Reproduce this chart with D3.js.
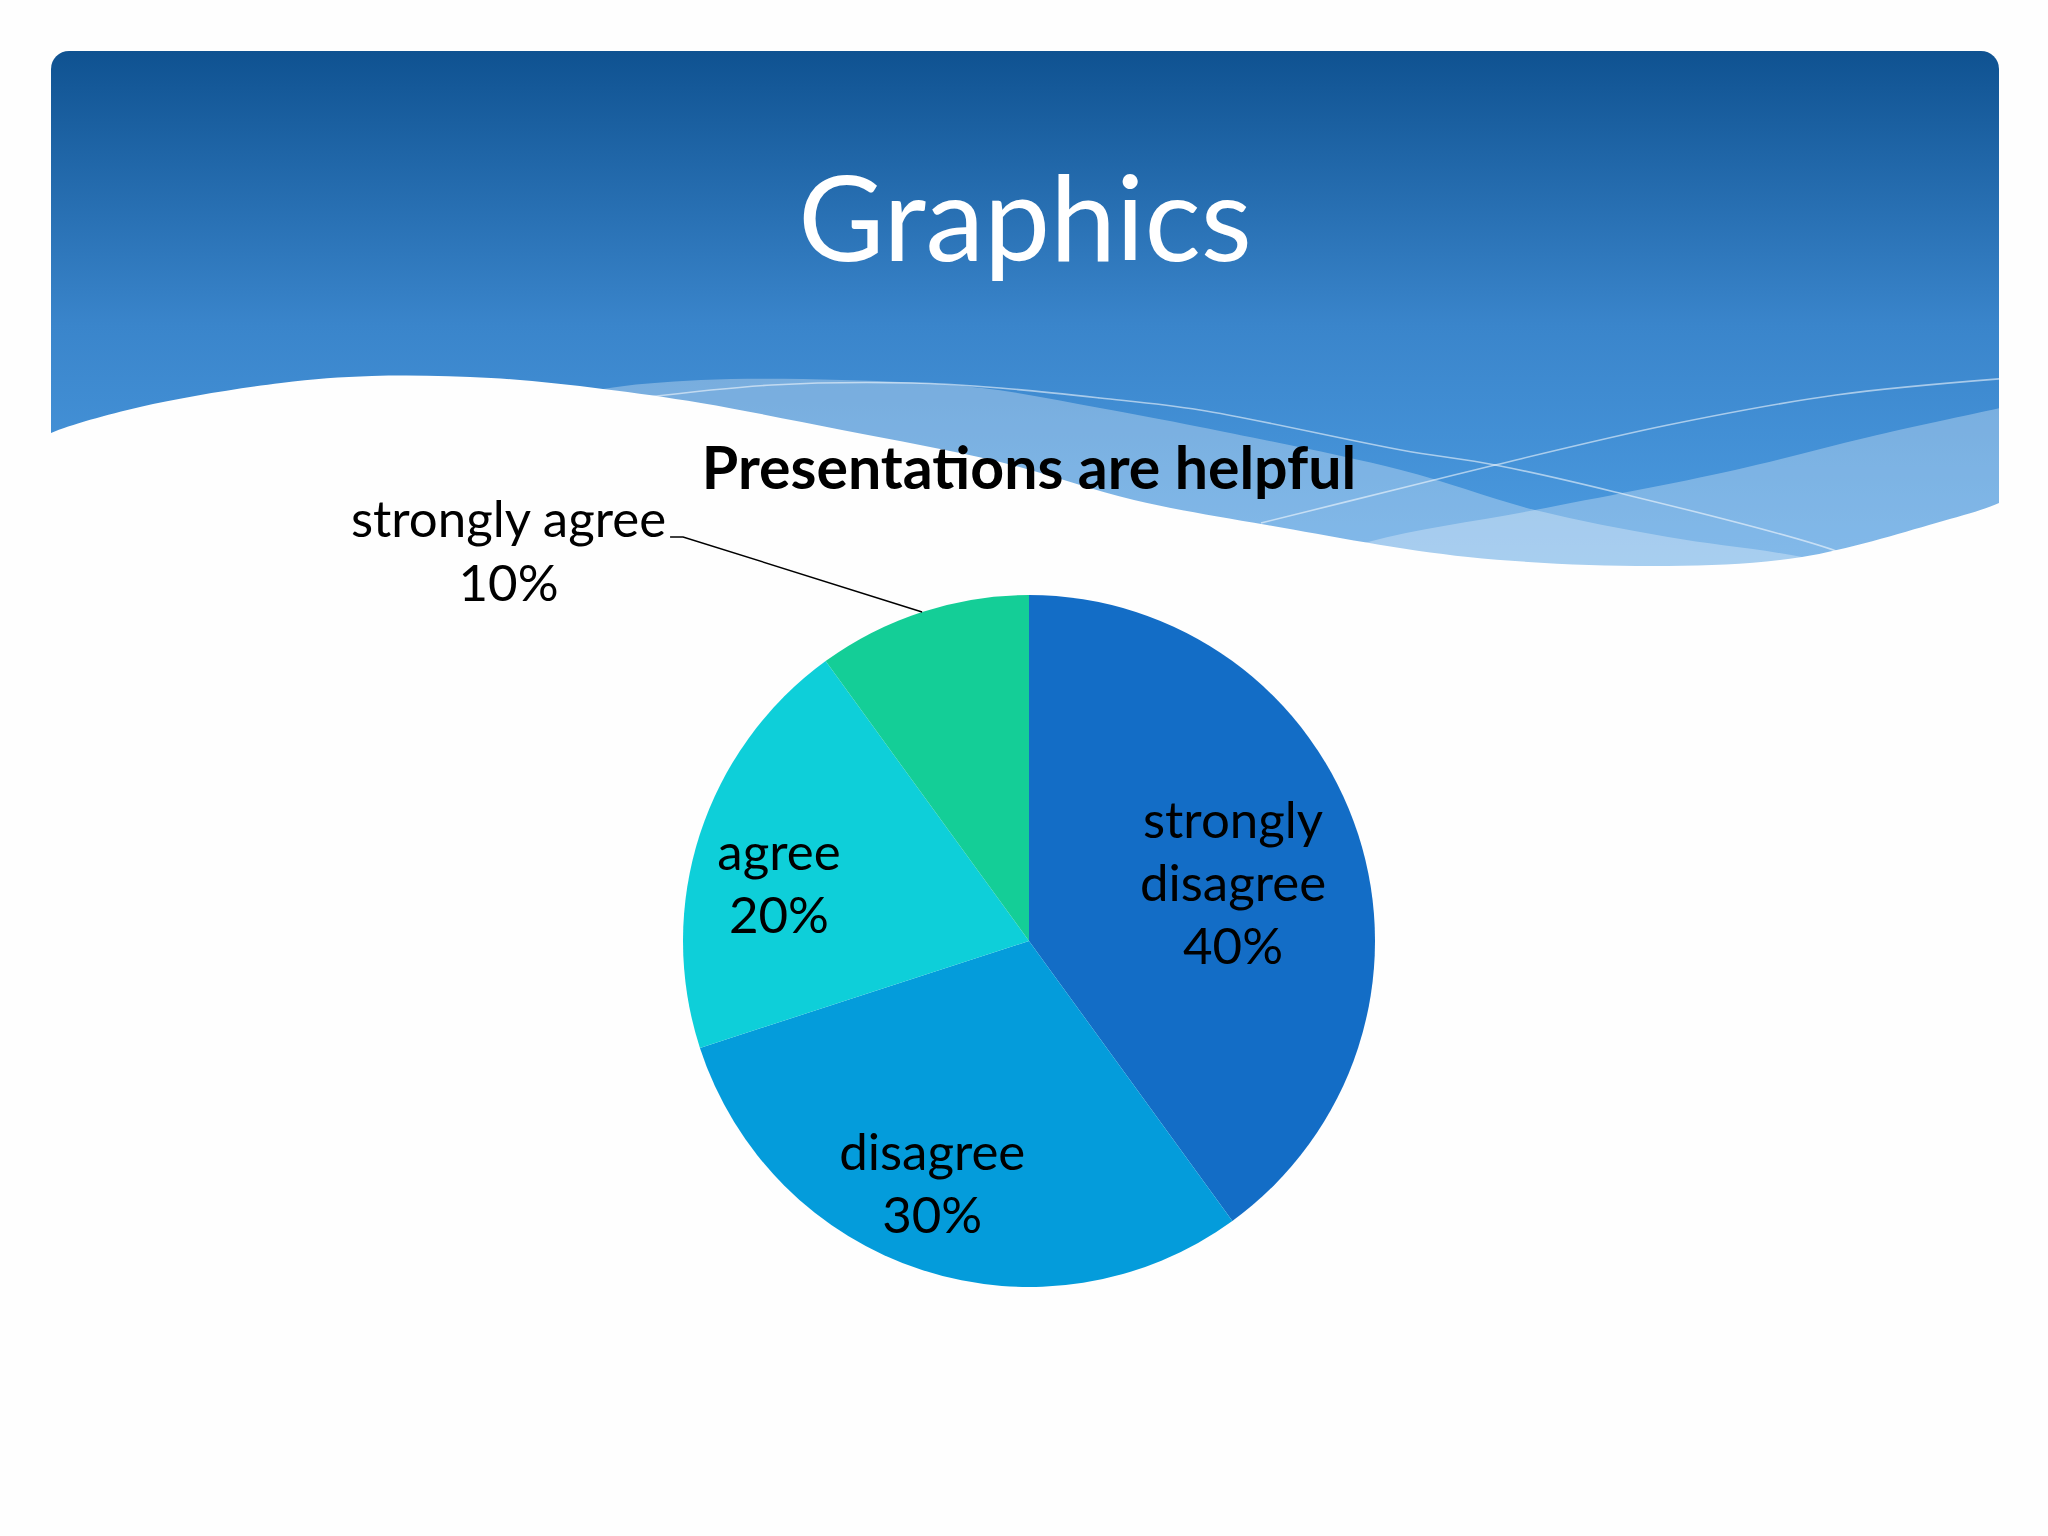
<!DOCTYPE html>
<html>
<head>
<meta charset="utf-8">
<script src="https://cdn.jsdelivr.net/npm/d3@7"></script>
<style>
  body { margin: 0; background: #fff; }
  svg { display: block; }
</style>
</head>
<body>
<div id="chart"></div>
<script>
// slide data
const slideTitle = 'Graphics';
const chartTitle = 'Presentations are helpful';
const categories = ['strongly disagree', 'disagree', 'agree', 'strongly agree'];
const values = [40, 30, 20, 10];
const labelWords = [['strongly', 'disagree'], ['disagree'], ['agree'], ['strongly agree']];
const palette = ['#136dc6', '#049cdb', '#0ecfd9', '#14ce97'];

const width = 2048;
const height = 1536;
const font = 'Lato, "Open Sans", sans-serif';

const data = categories.map((c, i) => ({ cat: c, value: values[i], words: labelWords[i] }));
const total = d3.sum(values);

const svg = d3
  .select('#chart')
  .append('svg')
  .attr('width', width)
  .attr('height', height)
  .attr('viewBox', [0, 0, width, height]);

svg.append('rect').attr('width', width).attr('height', height).attr('fill', '#fefefe');

// header background (rounded box, gradient, waves)
const defs = svg.append('defs');
const grad = defs
  .append('linearGradient')
  .attr('id', 'hdr')
  .attr('gradientUnits', 'userSpaceOnUse')
  .attr('x1', 0)
  .attr('y1', 51)
  .attr('x2', 0)
  .attr('y2', 600);
grad.append('stop').attr('offset', 0).attr('stop-color', '#0f5291');
grad.append('stop').attr('offset', 0.5).attr('stop-color', '#3a85cb');
grad.append('stop').attr('offset', 1).attr('stop-color', '#4f9fe4');

defs
  .append('clipPath')
  .attr('id', 'hdrClip')
  .append('rect')
  .attr('x', 51)
  .attr('y', 51)
  .attr('width', 1948)
  .attr('height', 700)
  .attr('rx', 18);

const header = svg.append('g').attr('clip-path', 'url(#hdrClip)');
header.append('rect').attr('x', 51).attr('y', 51).attr('width', 1948).attr('height', 580).attr('fill', 'url(#hdr)');

const curve = d3.line().curve(d3.curveCatmullRom.alpha(0.5));
const toBottom = (pts, yb) => curve(pts) + `L${pts[pts.length - 1][0]},${yb}L${pts[0][0]},${yb}Z`;

const bandA = [[560, 400], [603, 389], [701, 380], [842, 380], [982, 388], [1100, 408], [1200, 427],
  [1401, 470], [1535, 510], [1668, 537], [1802, 557], [2010, 605]];
const bandB = [[1230, 590], [1368, 542], [1535, 510], [1735, 470], [1869, 437], [2010, 406]];
const thin1 = [[640, 398], [772, 385], [912, 383], [1000, 388], [1100, 398], [1200, 410], [1401, 450],
  [1495, 465], [1615, 492], [1836, 551], [1900, 580]];
const thin2 = [[1261, 523], [1414, 485], [1495, 465], [1668, 425], [1836, 395], [2010, 378]];
const whiteEdge = [[30, 445], [51, 433], [140, 407], [281, 383], [372, 376], [491, 378], [603, 389],
  [701, 403], [842, 430], [1000, 462], [1134, 500], [1267, 525], [1468, 557], [1668, 566], [1802, 557],
  [1936, 523], [1999, 503], [2020, 490]];

header.append('path').attr('d', toBottom(bandA, 640)).attr('fill', '#fff').attr('fill-opacity', 0.3);
header.append('path').attr('d', toBottom(bandB, 640)).attr('fill', '#fff').attr('fill-opacity', 0.3);
[thin1, thin2].forEach((pts) => {
  header
    .append('path')
    .attr('d', curve(pts))
    .attr('fill', 'none')
    .attr('stroke', '#fff')
    .attr('stroke-opacity', 0.55)
    .attr('stroke-width', 1.6);
});
header.append('path').attr('d', toBottom(whiteEdge, 760)).attr('fill', '#fefefe');

// titles
svg
  .append('text')
  .attr('x', 1025)
  .attr('y', 261)
  .attr('text-anchor', 'middle')
  .attr('font-family', font)
  .attr('font-size', 118)
  .attr('fill', '#fff')
  .text(slideTitle);

svg
  .append('text')
  .attr('x', 1029)
  .attr('y', 489)
  .attr('text-anchor', 'middle')
  .attr('font-family', font)
  .attr('font-weight', 'bold')
  .attr('font-size', 59)
  .attr('fill', '#000')
  .text(chartTitle);

// pie
const cx = 1029;
const cy = 941;
const radius = 346;

const color = d3.scaleOrdinal().domain(categories).range(palette);
const pie = d3
  .pie()
  .sort(null)
  .value((d) => d.value);
const arc = d3.arc().innerRadius(0).outerRadius(radius);
const labelArc = d3.arc().innerRadius(radius * 0.69).outerRadius(radius * 0.69);
const edgeArc = d3.arc().innerRadius(radius).outerRadius(radius);

const g = svg.append('g').attr('transform', `translate(${cx}, ${cy})`);
const arcs = pie(data);

g.selectAll('path')
  .data(arcs)
  .join('path')
  .attr('d', arc)
  .attr('fill', (d) => color(d.data.cat));

const pct = (d) => `${Math.round((d.data.value / total) * 100)}%`;
const lineH = 63;
const labelSize = 51;
const nudge = [-23, 16]; // label box offset, like the original's placement

// labels that fit inside the slice
const inside = arcs.filter((d) => d.data.value / total >= 0.15);
g.selectAll('text.in')
  .data(inside)
  .join('text')
  .attr('class', 'in')
  .attr('font-family', font)
  .attr('font-size', labelSize)
  .attr('fill', '#000')
  .attr('text-anchor', 'middle')
  .each(function (d) {
    const [x, y] = labelArc.centroid(d);
    const lines = d.data.words.concat(pct(d));
    const t = d3.select(this);
    lines.forEach((ln, i) => {
      t.append('tspan')
        .attr('x', x + nudge[0])
        .attr('y', y + nudge[1] + (i - (lines.length - 1) / 2) * lineH)
        .attr('dy', '0.35em')
        .text(ln);
    });
  });

// small slice: outside label with leader line
const outside = arcs.filter((d) => d.data.value / total < 0.15);
outside.forEach((d) => {
  const [px, py] = edgeArc.centroid(d);
  const ex = px - 239;
  const ey = py - 75;
  g.append('path')
    .attr('d', `M${px},${py}L${ex},${ey}L${ex - 13},${ey}`)
    .attr('fill', 'none')
    .attr('stroke', '#000')
    .attr('stroke-width', 1.5);
  const t = g
    .append('text')
    .attr('font-family', font)
    .attr('font-size', labelSize)
    .attr('fill', '#000')
    .attr('text-anchor', 'middle');
  const first = t.append('tspan').attr('y', ey).text(d.data.words[0]);
  const w = first.node().getComputedTextLength();
  const mx = ex - 17 - w / 2;
  first.attr('x', mx);
  t.append('tspan').attr('x', mx).attr('y', ey + lineH + 1).text(pct(d));
});
</script>
</body>
</html>
